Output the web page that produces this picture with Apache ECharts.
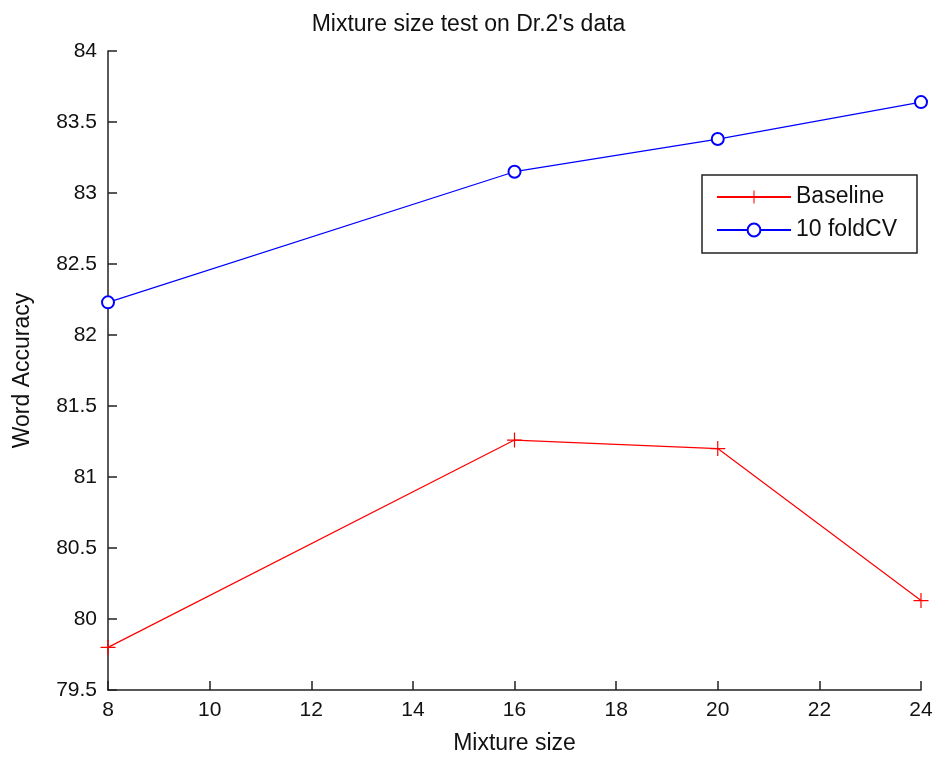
<!DOCTYPE html>
<html>
<head>
	<meta charset="utf-8">
	<title>Mixture size test</title>
	<script src="https://cdn.jsdelivr.net/npm/echarts@6/dist/echarts.min.js"></script>
	<style>
		html, body { margin: 0; padding: 0; background: #fff; }
		#main { width: 937px; height: 757px; }
	</style>
</head>
<body>
<div id="main"></div>
<script>
	// Dane
	var mixtureSizes = [8, 16, 20, 24];
	var baseline = [79.80, 81.26, 81.20, 80.13];
	var foldCV = [82.23, 83.15, 83.38, 83.64];

	var font = 'Liberation Sans';
	var plus = 'path://M0,4.6H10V5.4H0Z M4.6,0H5.4V10H4.6Z';

	function pairs(xs, ys) {
		return xs.map(function(x, i) { return [x, ys[i]]; });
	}

	var myChart = echarts.init(document.getElementById('main'));
	var option = {
		backgroundColor: '#fff',
		animation: false,
		title: {
			text: "Mixture size test on Dr.2's data",
			left: 'center',
			top: 8,
			textStyle: { fontFamily: font, fontSize: 23, fontWeight: 'normal', color: '#111' }
		},
		legend: {
			orient: 'vertical',
			left: 702,
			top: 175,
			padding: [10, 20, 11, 14],
			itemGap: 9,
			itemWidth: 74,
			itemHeight: 16,
			borderColor: '#222',
			borderWidth: 1.5,
			backgroundColor: '#fff',
			textStyle: { fontFamily: font, fontSize: 23, color: '#111', lineHeight: 24 },
			data: ['Baseline', '10 foldCV']
		},
		grid: { left: 108, right: 16, top: 51, bottom: 67, containLabel: false, outerBoundsMode: 'none' },
		xAxis: {
			type: 'value',
			min: 8, max: 24, interval: 2,
			name: 'Mixture size',
			nameLocation: 'middle',
			nameGap: 42,
			nameTextStyle: { fontFamily: font, fontSize: 23, color: '#111' },
			axisLine: { lineStyle: { color: '#222', width: 1.5 } },
			axisTick: { inside: true, length: 9, lineStyle: { color: '#222', width: 1.5 } },
			axisLabel: { fontFamily: font, fontSize: 21, color: '#111', margin: 10 },
			splitLine: { show: false }
		},
		yAxis: {
			type: 'value',
			min: 79.5, max: 84, interval: 0.5,
			name: 'Word Accuracy',
			nameLocation: 'middle',
			nameGap: 74,
			nameTextStyle: { fontFamily: font, fontSize: 23, color: '#111' },
			axisLine: { show: true, lineStyle: { color: '#222', width: 1.5 } },
			axisTick: { show: true, inside: true, length: 9, lineStyle: { color: '#222', width: 1.5 } },
			axisLabel: { fontFamily: font, fontSize: 21, color: '#111', margin: 11 },
			splitLine: { show: false }
		},
		series: [
			{
				name: 'Baseline',
				type: 'line',
				data: pairs(mixtureSizes, baseline),
				symbol: plus,
				symbolSize: 15,
				showAllSymbol: true,
				lineStyle: { color: '#ff0000', width: 1.2 },
				itemStyle: { color: '#ff0000' }
			},
			{
				name: '10 foldCV',
				type: 'line',
				data: pairs(mixtureSizes, foldCV),
				symbol: 'emptyCircle',
				symbolSize: 12,
				showAllSymbol: true,
				lineStyle: { color: '#0000ff', width: 1.2 },
				itemStyle: { color: '#0000ff', borderColor: '#0000ff', borderWidth: 1.5 }
			}
		]
	};
	myChart.setOption(option);
</script>
</body>
</html>
